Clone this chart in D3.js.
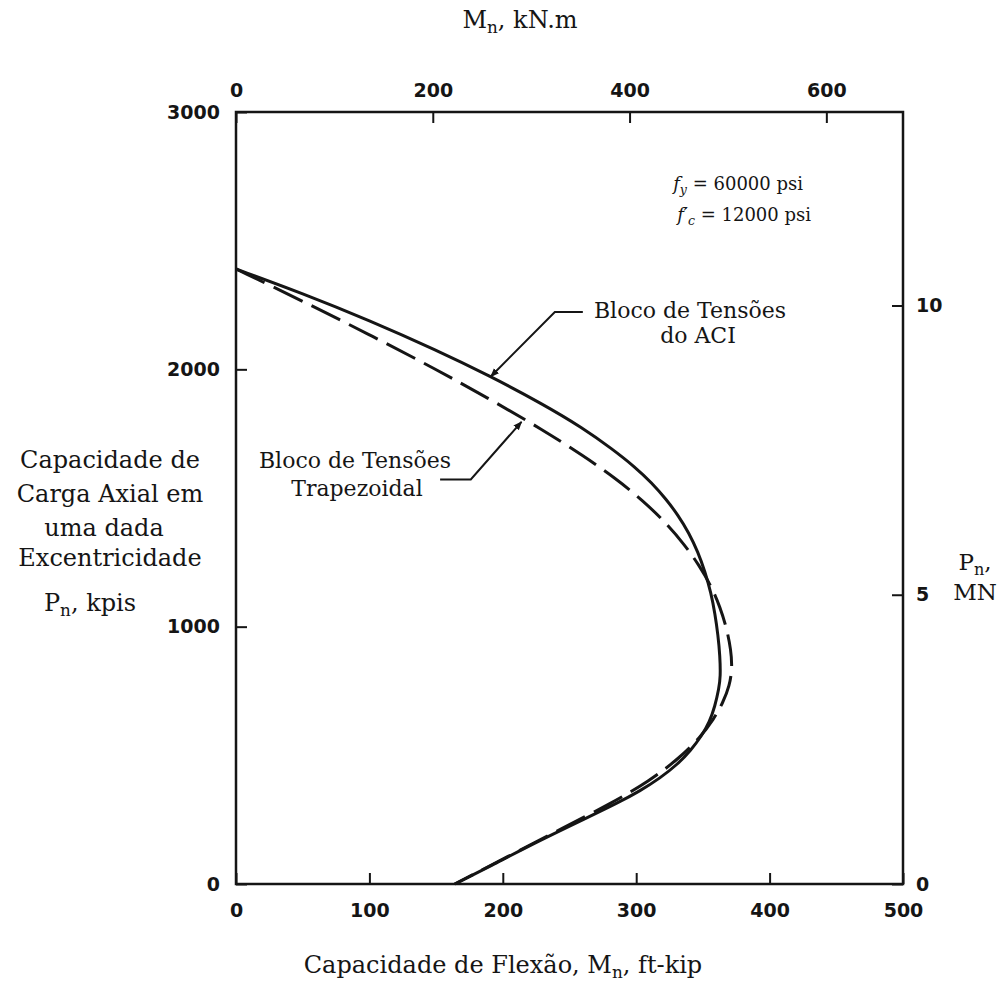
<!DOCTYPE html>
<html>
<head>
<meta charset="utf-8">
<script src="https://cdn.jsdelivr.net/npm/d3@7"></script>
<style>
  body { margin: 0; background: #fff; }
  svg { display: block; }
  .serif { font-family: "DejaVu Serif", serif; fill: #151515; }
  .tick text { font-family: "DejaVu Sans", sans-serif; font-weight: bold; font-size: 19px; fill: #151515; }
  .tick line { stroke: #151515; stroke-width: 2; }
</style>
</head>
<body>
<svg id="chart" width="1007" height="987"></svg>
<script>
// Interaction diagram: nominal moment M_n (ft-kip) vs nominal axial load P_n (kips)
// ACI rectangular stress block
const aciMoment = [0, 50, 100, 150, 190, 230, 260, 281.9, 299, 311.8, 322.3, 331.3, 339.6, 346.3, 351.6, 356.1, 359.1, 361.3, 362.8, 363.2, 362, 359, 355, 349, 341, 331, 318, 303, 285, 265, 228, 190, 164];
const aciAxial  = [2390, 2295, 2190, 2075, 1975, 1865, 1772, 1691, 1621, 1558, 1496, 1434, 1364, 1290, 1213, 1131, 1049, 968, 886, 805, 760, 690, 630, 575, 520, 465, 412, 362, 312, 262, 170, 68, 0];
// Trapezoidal stress block
const trapMoment = [0, 50, 100, 150, 190, 230, 260, 285, 305, 322, 336, 347, 356, 363, 368, 371, 372, 370, 365, 358, 348, 333, 310, 280, 245, 205, 164];
const trapAxial  = [2390, 2265, 2135, 2000, 1885, 1765, 1665, 1575, 1490, 1405, 1320, 1240, 1160, 1075, 990, 910, 840, 770, 704, 640, 570, 492, 400, 310, 218, 110, 0];

// Tick values for the four axes
const momentTicks   = [0, 100, 200, 300, 400, 500];   // ft-kip
const axialTicks    = [0, 1000, 2000, 3000];          // kips
const momentSITicks = [0, 200, 400, 600];             // kN.m
const axialSITicks  = [0, 5, 10];                     // MN

const KNM_PER_FTKIP = 1.355818;
const KIP_PER_MN = 224.809;

const svg = d3.select("#chart");
const ink = "#151515";

const x = d3.scaleLinear().domain([0, 500]).range([236, 903]);
const y = d3.scaleLinear().domain([0, 3000]).range([884, 112]);
const xTop = d3.scaleLinear().domain([0, 500 * KNM_PER_FTKIP]).range(x.range());
const yRight = d3.scaleLinear().domain([0, 3000 / KIP_PER_MN]).range(y.range());

const fmt = d3.format("d");
const tickLen = 11;

// Axes with inward ticks
const gBottom = svg.append("g").attr("transform", `translate(0,${y(0)})`)
  .call(d3.axisBottom(x).tickValues(momentTicks).tickFormat(fmt).tickSizeInner(-tickLen).tickSizeOuter(0).tickPadding(20));
const gLeft = svg.append("g").attr("transform", `translate(${x(0)},0)`)
  .call(d3.axisLeft(y).tickValues(axialTicks).tickFormat(fmt).tickSizeInner(-tickLen).tickSizeOuter(0).tickPadding(16));
const gTop = svg.append("g").attr("transform", `translate(0,${y(3000)})`)
  .call(d3.axisTop(xTop).tickValues(momentSITicks).tickFormat(fmt).tickSizeInner(-tickLen).tickSizeOuter(0).tickPadding(15));
const gRight = svg.append("g").attr("transform", `translate(${x(500)},0)`)
  .call(d3.axisRight(yRight).tickValues(axialSITicks).tickFormat(fmt).tickSizeInner(-tickLen).tickSizeOuter(0).tickPadding(13));
[gBottom, gLeft, gTop, gRight].forEach(g => g.select(".domain").remove());

// Plot frame
svg.append("rect")
  .attr("x", x(0)).attr("y", y(3000))
  .attr("width", x(500) - x(0)).attr("height", y(0) - y(3000))
  .attr("fill", "none").attr("stroke", ink).attr("stroke-width", 2.5);

// Curves (B-spline through the traced points keeps them smooth)
const line = d3.line()
  .x(d => x(d[0])).y(d => y(d[1]))
  .curve(d3.curveBasis);

const aci = aciMoment.map((m, i) => [m, aciAxial[i]]);
const trap = trapMoment.map((m, i) => [m, trapAxial[i]]);

svg.append("path").attr("d", line(trap))
  .attr("fill", "none").attr("stroke", ink).attr("stroke-width", 3)
  .attr("stroke-dasharray", "32,10").attr("stroke-linecap", "butt");
svg.append("path").attr("d", line(aci))
  .attr("fill", "none").attr("stroke", ink).attr("stroke-width", 3);

// Arrow marker for the leaders
svg.append("defs").append("marker")
  .attr("id", "arrow").attr("viewBox", "0 0 10 10")
  .attr("refX", 9).attr("refY", 5)
  .attr("markerWidth", 9).attr("markerHeight", 9)
  .attr("markerUnits", "userSpaceOnUse")
  .attr("orient", "auto")
  .append("path").attr("d", "M0,1 L10,5 L0,9 Z").attr("fill", ink);

const leader = pts => svg.append("path")
  .attr("d", d3.line().x(d => x(d[0])).y(d => y(d[1]))(pts))
  .attr("fill", "none").attr("stroke", ink).attr("stroke-width", 2)
  .attr("marker-end", "url(#arrow)");

leader([[260, 2223], [239, 2223], [191, 1972]]);
leader([[153, 1572], [176, 1572], [214, 1796]]);

// Text helpers
function label(txt, px, py, size, anchor) {
  return svg.append("text").attr("class", "serif")
    .attr("x", px).attr("y", py)
    .attr("font-size", size).attr("text-anchor", anchor || "middle")
    .text(txt);
}
function subLabel(parts, px, py, size, anchor) {
  const t = svg.append("text").attr("class", "serif")
    .attr("x", px).attr("y", py)
    .attr("font-size", size).attr("text-anchor", anchor || "middle");
  parts.forEach(p => {
    const s = t.append("tspan").text(p.t);
    if (p.sub) s.attr("font-size", size * 0.7).attr("dy", size * 0.22);
    if (p.up) s.attr("dy", -size * 0.22);
    if (p.it) s.attr("font-style", "italic");
  });
  return t;
}

// Axis titles
subLabel([{t: "M"}, {t: "n", sub: true}, {t: ", kN.m", up: true}], 520, 28, 24);
subLabel([{t: "Capacidade de Flexão, M"}, {t: "n", sub: true}, {t: ", ft-kip", up: true}], 503, 973, 24);

// Left title block
label("Capacidade de", 110, 468, 24);
label("Carga Axial em", 110, 502, 24);
label("uma dada", 104, 536, 24);
label("Excentricidade", 110, 566, 24);
subLabel([{t: "P"}, {t: "n", sub: true}, {t: ", kpis", up: true}], 90, 611, 24);

// Right title
subLabel([{t: "P"}, {t: "n", sub: true}, {t: ",", up: true}], 975, 570, 23);
label("MN", 975, 600, 23);

// Material properties
subLabel([{t: "f", it: true}, {t: "y", sub: true, it: true}, {t: " = 60000 psi", up: true}], 803, 190, 18, "end");
subLabel([{t: "f′", it: true}, {t: "c", sub: true, it: true}, {t: " = 12000 psi", up: true}], 811, 221, 18, "end");

// Curve labels
label("Bloco de Tensões", 690, 318, 22);
label("do ACI", 698, 343, 22);
label("Bloco de Tensões", 355, 468, 22);
label("Trapezoidal", 357, 496, 22);
</script>
</body>
</html>
